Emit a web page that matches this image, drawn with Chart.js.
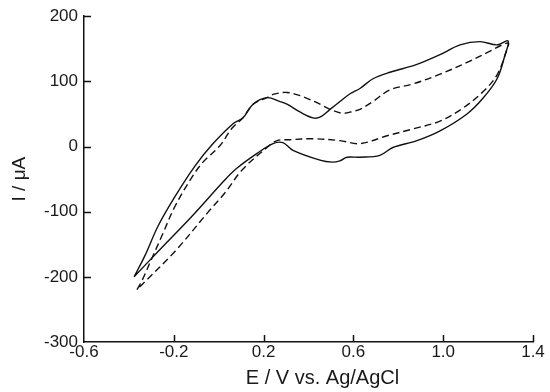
<!DOCTYPE html>
<html>
<head>
<meta charset="utf-8">
<script src="https://cdn.jsdelivr.net/npm/chart.js@4.4.1/dist/chart.umd.min.js"></script>
<style>
  html, body { margin: 0; padding: 0; background: #fff; }
  #wrap { width: 550px; height: 392px; }
</style>
</head>
<body>
<div id="wrap"><canvas id="cv" width="550" height="392"></canvas></div>
<script>
// curva continua: barrido de ida (arriba) y de vuelta (abajo)
const solidFwdE = [-0.377, -0.328, -0.270, -0.195, -0.106, -0.025, 0.064, 0.108, 0.153, 0.215, 0.273, 0.304, 0.362, 0.420, 0.451, 0.496, 0.540, 0.585, 0.629, 0.687, 0.763, 0.883, 0.986, 1.075, 1.164, 1.240, 1.289];
const solidFwdI = [-200, -167, -122, -77, -30, 4.5, 35, 44, 65, 75, 69, 65, 53, 44, 45, 57, 69, 81, 89, 104, 114, 126, 141, 156, 161, 156, 162];
const solidRevE = [1.275, 1.240, 1.177, 1.106, 0.986, 0.883, 0.776, 0.718, 0.629, 0.571, 0.540, 0.505, 0.451, 0.331, 0.286, 0.242, 0.171, 0.082, 0.028, -0.119, -0.270, -0.377];
const solidRevI = [140, 104, 74, 50, 24, 9, -1.5, -13.5, -16.5, -16.5, -22, -24, -21, -6, 6, 4.5, -10.5, -33, -51, -107, -161, -200];

// curva discontinua
const dashFwdE = [-0.364, -0.342, -0.297, -0.253, -0.195, -0.119, -0.070, 0.006, 0.059, 0.108, 0.153, 0.215, 0.242, 0.304, 0.362, 0.393, 0.451, 0.496, 0.554, 0.598, 0.629, 0.687, 0.763, 0.865, 0.986, 1.106, 1.195, 1.289];
const dashFwdI = [-219.5, -206, -171, -137, -92, -47, -24, 1.5, 28, 44, 65, 75, 80, 83, 78, 74, 65, 57, 51, 54, 57, 69, 87, 96, 111, 129, 144, 159];
const dashRevE = [1.284, 1.240, 1.177, 1.088, 0.986, 0.865, 0.750, 0.629, 0.540, 0.420, 0.318, 0.260, 0.215, 0.104, 0.028, -0.048, -0.195, -0.342, -0.364];
const dashRevI = [149, 110, 84, 59, 39, 27, 16.5, 4.5, 9, 12, 10.5, 9, -1.5, -36, -71, -101, -161, -212, -219.5];

// ejes
const xMin = -0.6, xMax = 1.4, xStep = 0.4;
const yMin = -300, yMax = 200, yStep = 100;
const xTitle = 'E / V vs. Ag/AgCl';
const yTitle = 'I / μA';

function toPoints(es, is) {
    return es.map((e, k) => ({ x: e, y: is[k] }));
}

// marcas de los ejes hacia dentro + titulo del eje x (algo desplazado a la derecha)
const innerTicks = {
    id: 'innerTicks',
    afterDraw(chart) {
        const ctx = chart.ctx;
        const xs = chart.scales.x, ys = chart.scales.y;
        const area = chart.chartArea;
        ctx.save();
        ctx.strokeStyle = '#111';
        ctx.lineWidth = 1.5;
        ctx.beginPath();
        xs.ticks.forEach(t => {
            if (t.value === xMin) return;
            const px = Math.round(xs.getPixelForValue(t.value)) + 0.5;
            ctx.moveTo(px, area.bottom);
            ctx.lineTo(px, area.bottom - 7);
        });
        ys.ticks.forEach(t => {
            if (t.value === yMin) return;
            const py = Math.round(ys.getPixelForValue(t.value)) + 0.5;
            ctx.moveTo(area.left, py);
            ctx.lineTo(area.left + 7, py);
        });
        ctx.stroke();

        ctx.fillStyle = '#1a1a1a';
        ctx.font = "20px 'Liberation Sans', Arial, sans-serif";
        ctx.textAlign = 'center';
        ctx.textBaseline = 'middle';
        ctx.fillText(xTitle, (area.left + area.right) / 2 + 14, 378);
        ctx.restore();
    }
};

Chart.defaults.font.family = "'Liberation Sans', Arial, sans-serif";
Chart.defaults.color = '#1a1a1a';

const ctx = document.getElementById('cv').getContext('2d');
new Chart(ctx, {
    type: 'scatter',
    data: {
        datasets: [{
            label: 'solid',
            data: toPoints(solidFwdE.concat(solidRevE), solidFwdI.concat(solidRevI)),
            showLine: true,
            borderColor: '#111',
            borderWidth: 1.4,
            pointRadius: 0,
            tension: 0.35
        }, {
            label: 'dashed',
            data: toPoints(dashFwdE.concat(dashRevE), dashFwdI.concat(dashRevI)),
            showLine: true,
            borderColor: '#111',
            borderWidth: 1.4,
            borderDash: [7, 4],
            pointRadius: 0,
            tension: 0.35
        }]
    },
    options: {
        responsive: false,
        animation: false,
        layout: { padding: { top: 13, right: 17, left: 0, bottom: 0 } },
        plugins: {
            legend: { display: false },
            tooltip: { enabled: false }
        },
        scales: {
            x: {
                type: 'linear',
                min: xMin, max: xMax,
                grid: { display: false, drawTicks: false },
                border: { display: true, color: '#111', width: 1.5 },
                ticks: {
                    stepSize: xStep,
                    padding: 0,
                    font: { size: 17 },
                    maxRotation: 0,
                    callback: v => v.toFixed(1)
                },
                title: { display: false },
                afterFit: s => { s.height = 50; }
            },
            y: {
                type: 'linear',
                min: yMin, max: yMax,
                grid: { display: false, drawTicks: false },
                border: { display: true, color: '#111', width: 1.5 },
                ticks: {
                    stepSize: yStep,
                    padding: 6,
                    font: { size: 17 }
                },
                title: {
                    display: true,
                    text: yTitle,
                    font: { size: 19 },
                    padding: { top: 8, bottom: 0 }
                },
                afterFit: s => { s.width = 84; }
            }
        }
    },
    plugins: [innerTicks]
});
</script>
</body>
</html>
